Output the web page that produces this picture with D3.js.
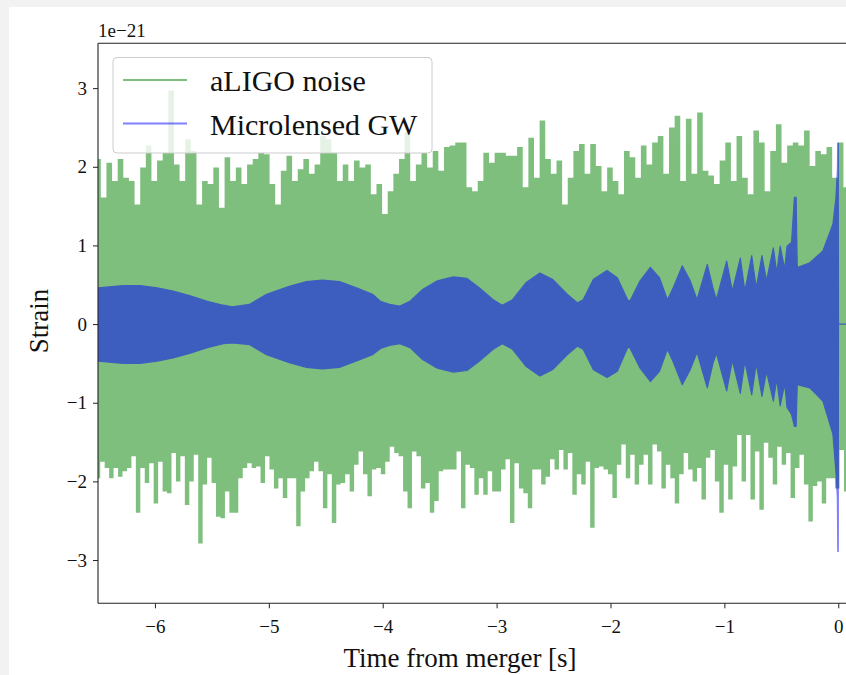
<!DOCTYPE html>
<html>
<head>
<meta charset="utf-8">
<script src="https://cdn.jsdelivr.net/npm/d3@7/dist/d3.min.js"></script>
<style>
  html, body { margin: 0; padding: 0; background: #f2f2f2; }
  svg { display: block; }
  text { font-family: "Liberation Serif", "DejaVu Serif", serif; fill: #111; }
</style>
</head>
<body>
<svg id="chart" width="846" height="675"></svg>
<script>
// ---------------- DATA (strain in units of 1e-21, time in s) ----------------
const noiseStart = -6.5;
const noiseEnd = 0.07;
// upper peaks of the aLIGO noise, evenly spaced in time
const noiseUpper = [
  2.10, 1.61, 2.05, 1.82, 2.10, 1.86, 1.82, 1.52, 1.99, 2.27, 1.82, 2.08, 2.18, 2.97, 2.03, 1.82,
  2.35, 2.20, 1.52, 1.82, 1.78, 1.99, 1.48, 2.12, 1.82, 1.99, 1.78, 2.03, 2.10, 2.18, 2.16, 1.78,
  1.52, 1.95, 2.14, 1.82, 1.97, 2.10, 1.91, 2.03, 2.39, 2.35, 2.18, 1.82, 2.03, 1.82, 2.08, 1.99,
  2.03, 1.65, 1.78, 1.40, 1.69, 1.91, 2.10, 2.44, 1.82, 2.03, 2.18, 1.99, 2.20, 1.95, 2.25, 2.27,
  2.31,
  2.31, 1.74, 1.69, 1.82, 2.18, 2.05, 2.18, 2.18, 2.14, 2.14, 2.25, 1.74, 2.37, 1.86, 2.59, 2.10,
  1.91, 2.08, 1.52, 1.86, 2.20, 2.29, 1.91, 2.29, 2.01, 1.69, 1.99, 1.82, 1.65, 2.20, 2.12, 1.86,
  2.27, 2.03, 2.31, 2.39, 1.91, 2.50, 2.65, 1.82, 2.61, 1.91, 2.69, 1.95, 1.89, 1.78, 2.08, 2.31,
  1.82, 2.39, 1.86, 1.65, 2.46, 2.31, 1.69, 2.20, 2.54, 2.05, 2.27, 2.31, 2.27, 2.46, 2.01, 2.20,
  2.16, 2.25, 1.86, 2.31, 1.74
];
// lower peaks of the aLIGO noise, evenly spaced in time
const noiseLower = [
  -1.96, -1.75, -1.83, -1.96, -1.83, -1.94, -1.87, -1.83, -1.68, -2.40, -1.83, -2.02, -1.77, -2.28, -1.75, -2.13,
  -2.15, -1.64, -2.00, -1.68, -2.30, -2.00, -1.66, -2.79, -2.04, -1.70, -2.02, -2.45, -2.47, -2.13, -2.40, -2.40,
  -1.96, -1.83, -1.77, -1.83, -1.81, -2.02, -1.68, -1.85, -2.09, -1.96, -2.21, -1.96, -1.96, -2.57, -2.13, -1.96,
  -1.87, -1.75, -1.87, -2.34, -1.91, -2.53, -2.04, -2.02, -1.91, -2.13, -1.79, -1.62, -1.91, -2.19, -1.85, -1.83,
  -1.91, -1.75, -1.56, -1.64, -1.68, -2.13, -2.34, -1.62, -1.68, -2.09, -2.02, -2.40, -2.25, -1.87, -1.85, -1.85,
  -1.85, -1.62, -2.34, -1.79, -1.83, -2.17,
  -1.96, -2.17, -1.87, -2.13, -2.13, -1.85, -1.72, -2.53, -1.77, -2.09, -2.15, -2.34, -1.85, -1.85, -2.04, -1.94,
  -1.72, -1.85, -1.60, -1.85, -1.64, -2.17, -1.91, -2.04, -1.75, -2.59, -1.83, -1.81, -1.85, -1.91, -2.21, -1.79,
  -1.53, -1.96, -1.66, -2.04, -1.79, -1.66, -2.04, -1.53, -1.62, -2.09, -1.79, -1.96, -2.28, -1.91, -1.64, -1.85,
  -2.00, -1.83, -2.23, -1.70, -1.60, -2.00, -2.40, -1.79, -2.23, -1.81, -1.41, -2.00, -1.41, -2.23, -1.62, -2.36,
  -1.51, -1.70, -2.04, -1.56, -1.79, -1.64, -2.21, -1.83, -1.66, -2.04, -2.51, -2.06, -2.00, -2.28, -1.96, -1.96,
  -2.09, -1.60, -2.13
];
// microlensed GW signal envelope
const gwTime = [
  -6.50, -6.28, -6.13, -5.98, -5.84, -5.69, -5.54, -5.40, -5.32, -5.17, -5.02, -4.82, -4.67, -4.53, -4.38, -4.23,
  -4.09, -4.02, -3.94, -3.85, -3.76, -3.65, -3.52, -3.38, -3.26, -3.15, -3.03, -2.95, -2.86, -2.74, -2.62, -2.51,
  -2.38, -2.29, -2.24, -2.15, -2.03, -1.94, -1.85, -1.83, -1.74, -1.65, -1.57, -1.50, -1.45, -1.37, -1.30, -1.24,
  -1.15, -1.10, -1.07, -0.98, -0.93, -0.86, -0.82, -0.76, -0.72, -0.67, -0.63, -0.57, -0.54, -0.51, -0.47, -0.45,
  -0.41, -0.385, -0.37, -0.36, -0.25, -0.135, -0.047, -0.021, -0.008, -0.004, 0.0, 0.002, 0.5
];
const gwUpper = [
  0.46, 0.49, 0.49, 0.46, 0.42, 0.36, 0.29, 0.24, 0.22, 0.25, 0.38, 0.48, 0.54, 0.56, 0.54, 0.46,
  0.38, 0.29, 0.25, 0.23, 0.29, 0.44, 0.55, 0.60, 0.58, 0.46, 0.31, 0.24, 0.31, 0.53, 0.65, 0.57,
  0.38, 0.27, 0.31, 0.57, 0.68, 0.59, 0.31, 0.29, 0.55, 0.72, 0.59, 0.31, 0.46, 0.74, 0.55, 0.31,
  0.76, 0.46, 0.31, 0.80, 0.42, 0.84, 0.42, 0.87, 0.46, 0.87, 0.55, 0.97, 0.65, 0.99, 0.70, 0.99,
  1.04, 1.61, 1.61, 0.72, 0.78, 0.93, 1.27, 1.60, 1.95, 2.30, 2.30, 0.0, 0.0
];
const gwLower = [
  -0.47, -0.50, -0.50, -0.47, -0.43, -0.37, -0.30, -0.25, -0.24, -0.26, -0.39, -0.49, -0.55, -0.57, -0.55, -0.47,
  -0.39, -0.31, -0.27, -0.25, -0.30, -0.45, -0.56, -0.61, -0.59, -0.47, -0.32, -0.25, -0.32, -0.54, -0.66, -0.58,
  -0.39, -0.28, -0.32, -0.58, -0.68, -0.60, -0.30, -0.30, -0.56, -0.73, -0.60, -0.32, -0.48, -0.77, -0.58, -0.36,
  -0.81, -0.50, -0.37, -0.85, -0.46, -0.88, -0.47, -0.90, -0.50, -0.92, -0.60, -0.98, -0.70, -1.04, -0.76, -1.06,
  -1.15, -1.30, -1.30, -0.77, -0.81, -0.98, -1.40, -1.87, -2.20, -2.89, -2.89, 0.0, 0.0
];
const xTicks = [-6, -5, -4, -3, -2, -1, 0];
const yTicks = [-3, -2, -1, 0, 1, 2, 3];
const seriesNames = ["aLIGO noise", "Microlensed GW"];
const seriesColors = ["#008000", "#0000ff"];

// ---------------- LAYOUT ----------------
const svg = d3.select("#chart");
const W = 846, H = 675;
const plot = { left: 98, top: 43.3, right: 895.2, bottom: 603.3 };

svg.append("rect").attr("x", 0).attr("y", 0).attr("width", W).attr("height", H).attr("fill", "#f2f2f2");
svg.append("rect").attr("x", 9).attr("y", 7).attr("width", W - 9).attr("height", H - 7).attr("fill", "#ffffff");

const x = d3.scaleLinear().domain([-6.5, 0.5]).range([plot.left, plot.right]);
const y = d3.scaleLinear().domain([-3.55, 3.57]).range([plot.bottom, plot.top]);

svg.append("clipPath").attr("id", "clip")
  .append("rect").attr("x", plot.left).attr("y", plot.top)
  .attr("width", plot.right - plot.left).attr("height", plot.bottom - plot.top);

const gPlot = svg.append("g").attr("clip-path", "url(#clip)");

// noise
const stepU = (noiseEnd - noiseStart) / (noiseUpper.length - 1);
const stepL = (noiseEnd - noiseStart) / (noiseLower.length - 1);
const gNoise = gPlot.append("g").attr("opacity", 0.5);
gNoise.append("path")
  .datum(noiseUpper)
  .attr("fill", seriesColors[0])
  .attr("d", d3.area()
    .x((d, i) => x(noiseStart + i * stepU))
    .y0(y(-0.2))
    .y1(d => y(d))
    .curve(d3.curveStep));
gNoise.append("path")
  .datum(noiseLower)
  .attr("fill", seriesColors[0])
  .attr("d", d3.area()
    .x((d, i) => x(noiseStart + i * stepL))
    .y0(y(0.2))
    .y1(d => y(d))
    .curve(d3.curveStep));

// GW signal
const gw = gwTime.map((t, i) => ({ t, hi: gwUpper[i], lo: gwLower[i] }));
const gGW = gPlot.append("g").attr("opacity", 0.5);
gGW.append("path")
  .datum(gw)
  .attr("fill", seriesColors[1])
  .attr("stroke", seriesColors[1])
  .attr("stroke-width", 1.2)
  .attr("stroke-linejoin", "round")
  .attr("d", d3.area()
    .x(d => x(d.t))
    .y0(d => y(d.lo))
    .y1(d => y(d.hi)));

// ---------------- AXES ----------------
const fmt = d => (d < 0 ? "\u2212" + Math.abs(d) : String(d));
const xAxis = svg.append("g")
  .attr("transform", `translate(0,${plot.bottom})`)
  .call(d3.axisBottom(x).tickValues(xTicks).tickFormat(fmt).tickSize(5).tickPadding(7));
const yAxis = svg.append("g")
  .attr("transform", `translate(${plot.left},0)`)
  .call(d3.axisLeft(y).tickValues(yTicks).tickFormat(fmt).tickSize(5).tickPadding(6));
[xAxis, yAxis].forEach(a => {
  a.select(".domain").remove();
  a.selectAll(".tick line").attr("stroke", "#222").attr("stroke-width", 1);
  a.selectAll(".tick text").attr("font-family", "Liberation Serif, serif").attr("font-size", 19).attr("fill", "#111");
});
xAxis.selectAll(".tick text").attr("dy", "0.95em");

// spines (left, top, bottom; right lies outside the window)
svg.append("line").attr("x1", plot.left).attr("x2", plot.left).attr("y1", plot.top).attr("y2", plot.bottom)
  .attr("stroke", "#222").attr("stroke-width", 1.1);
svg.append("line").attr("x1", plot.left).attr("x2", plot.right).attr("y1", plot.top).attr("y2", plot.top)
  .attr("stroke", "#222").attr("stroke-width", 1.1);
svg.append("line").attr("x1", plot.left).attr("x2", plot.right).attr("y1", plot.bottom).attr("y2", plot.bottom)
  .attr("stroke", "#222").attr("stroke-width", 1.1);
svg.append("line").attr("x1", plot.right).attr("x2", plot.right).attr("y1", plot.top).attr("y2", plot.bottom)
  .attr("stroke", "#222").attr("stroke-width", 1.1);

// offset text
svg.append("text").attr("x", 98).attr("y", 37).attr("font-size", 19).text("1e\u221221");

// axis labels
svg.append("text").attr("x", 460).attr("y", 667).attr("text-anchor", "middle")
  .attr("font-size", 27).text("Time from merger [s]");
svg.append("text").attr("transform", "translate(48,321) rotate(-90)").attr("text-anchor", "middle")
  .attr("font-size", 27).text("Strain");

// ---------------- LEGEND ----------------
const lg = svg.append("g");
lg.append("rect").attr("x", 113).attr("y", 57.5).attr("width", 319).attr("height", 95.5)
  .attr("rx", 4).attr("fill", "#ffffff").attr("fill-opacity", 0.8)
  .attr("stroke", "#cccccc").attr("stroke-width", 1);
const rowsY = [80, 123.5];
seriesNames.forEach((name, i) => {
  lg.append("line").attr("x1", 123).attr("x2", 187).attr("y1", rowsY[i]).attr("y2", rowsY[i])
    .attr("stroke", seriesColors[i]).attr("stroke-opacity", 0.5).attr("stroke-width", 2.2);
  lg.append("text").attr("x", 210).attr("y", rowsY[i] + 11).attr("font-size", 30).text(name);
});
</script>
</body>
</html>
